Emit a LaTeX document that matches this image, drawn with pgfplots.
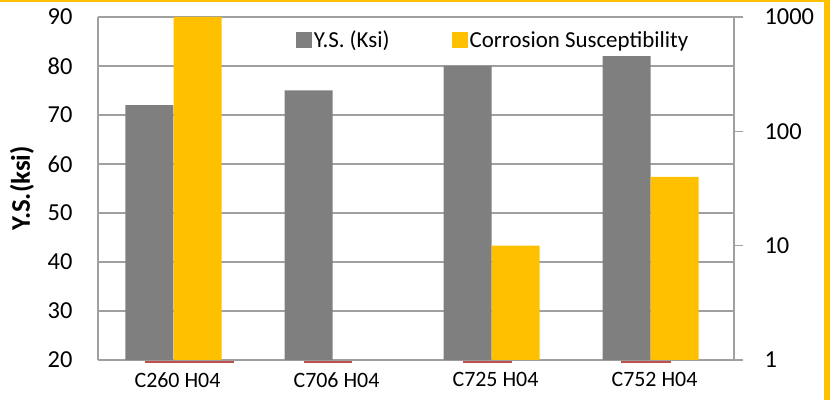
\documentclass[border=0pt]{standalone}
\usepackage{pgfplots}
\pgfplotsset{compat=1.18}
\usepackage{fontspec}
\setmainfont{Carlito}
\definecolor{barGray}{HTML}{7F7F7F}
\definecolor{barGold}{HTML}{FFC000}
\definecolor{gridGray}{HTML}{A0A0A0}
\definecolor{lineRed}{HTML}{C0504D}
\pgfplotsset{sqlegend/.style={legend image code/.code={\fill[##1] (0bp,-8bp) rectangle (16bp,8bp);}}}
\begin{document}
\begin{tikzpicture}
\useasboundingbox (-98bp,-40bp) rectangle (735bp,360bp);
\fill[barGold] (-98bp,358bp) rectangle (732bp,360bp);
\fill[barGold] (726bp,-40bp) rectangle (732bp,360bp);
\begin{axis}[
 at={(0,0)}, anchor=south west,
 scale only axis, width=636bp, height=343bp,
 xmin=-0.5, xmax=3.5, ymin=20, ymax=90,
 clip=false,
 ytick={20,30,...,90},
 xtick={0,1,2,3}, xticklabels={C260 H04, C706 H04, C725 H04, C752 H04},
 axis x line*=bottom, axis y line*=left,
 axis line style={gridGray, line width=1.3bp, -},
 ymajorgrids, grid style={gridGray, line width=1.3bp},
 major tick length=0pt,
 /pgf/number format/assume math mode=true,
 yticklabel style={font=\fontsize{24.5}{24.5}\selectfont, xshift=-22bp},
 xticklabel style={font=\fontsize{22}{22}\selectfont, yshift=-9bp},
 ylabel={\textbf{Y.S.(ksi)}},
 ylabel style={font=\fontsize{27}{27}\selectfont, at={(axis description cs:-0.1195,0.5)}, anchor=center},
 ybar, bar width=48bp,
 legend columns=2,
 legend style={draw=none, fill=none, at={(0.311,0.933)}, anchor=west, inner sep=0pt,
   font=\fontsize{23}{23}\selectfont,
   /tikz/every even column/.append style={column sep=60bp}},
]
\addplot[fill=barGray, draw=none, bar shift=-28bp, sqlegend]
  coordinates {(0,72) (1,75) (2,80) (3,82)};
\addlegendentry{Y.S. (Ksi)}
\addlegendimage{fill=barGold, draw=none, sqlegend}
\addlegendentry{Corrosion Susceptibility}
\addplot[sharp plot, draw=lineRed, line width=1.3bp, fill=none, no marks, forget plot, unbounded coords=jump]
  coordinates {(-0.204,19.6) (0.355,19.6) (0.5,inf) (0.796,19.6) (1.097,19.6) (1.5,inf)
               (1.796,19.6) (2.104,19.6) (2.5,inf) (2.789,19.6) (3.104,19.6)};
\end{axis}
\begin{axis}[
 at={(0,0)}, anchor=south west,
 scale only axis, width=636bp, height=343bp,
 xmin=-0.5, xmax=3.5, ymode=log, ymin=1, ymax=1000,
 axis y line*=right, axis x line=none,
 axis line style={gridGray, line width=1.3bp, -},
 ytick={1,10,100,1000}, yticklabels={1,10,100,1000},
 yminorticks=false,
 tick style={gridGray, line width=1.3bp},
 major tick length=9bp, tick align=outside,
 /pgf/number format/assume math mode=true,
 yticklabel style={font=\fontsize{24.5}{24.5}\selectfont, xshift=18bp},
 ybar, bar width=48bp,
]
\addplot[fill=barGold, draw=none, bar shift=20bp]
  coordinates {(0,1000) (2,10) (3,40)};
\end{axis}
\end{tikzpicture}
\end{document}
